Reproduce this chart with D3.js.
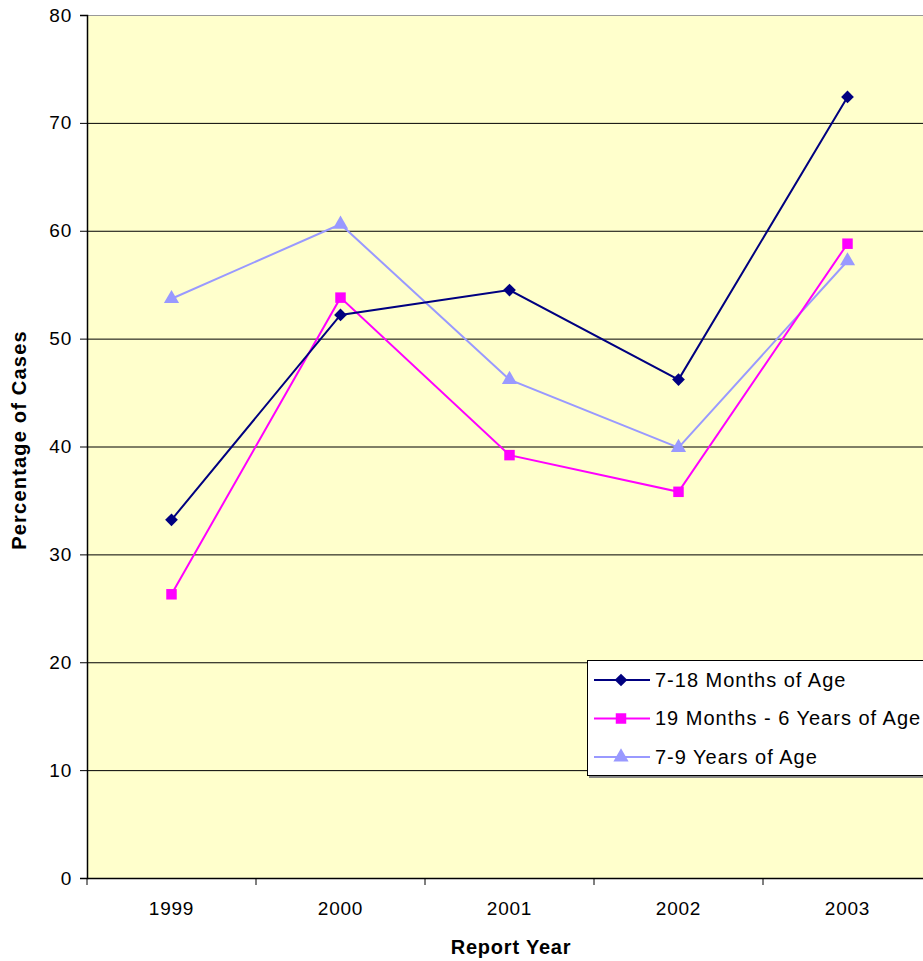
<!DOCTYPE html>
<html><head><meta charset="utf-8">
<script src="https://cdn.jsdelivr.net/npm/d3@7"></script>
<style>body{margin:0;background:#fff;}svg{display:block;font-family:"Liberation Sans",Arial,sans-serif;}</style>
</head><body>
<svg id="c" width="923" height="961"></svg>
<script>
const years = ["1999","2000","2001","2002","2003"];
const seriesNames = ["7-18 Months of Age","19 Months - 6 Years of Age","7-9 Years of Age"];
const months7to18 = [33.2, 52.2, 54.5, 46.2, 72.4];
const months19to6y = [26.3, 53.8, 39.2, 35.8, 58.8];
const years7to9 = [53.7, 60.6, 46.2, 39.9, 57.2];
const yTicks = [0,10,20,30,40,50,60,70,80];
const colors = ["#000080","#FF00FF","#9999FF"];
const markers = [d3.symbolSquare, d3.symbolSquare, d3.symbolTriangle];
const markerSizes = [81, 110, 100];
const markerRot = [45, 0, 0];

const svg = d3.select("#c");
const L=87, T=15, B=878, R=932;
const x = d3.scaleBand().domain(years).range([L,R]);
const y = d3.scaleLinear().domain([0,80]).range([B,T]);
const FF = "Liberation Sans, Arial, sans-serif";

svg.append("rect").attr("x",L).attr("y",T).attr("width",R-L).attr("height",B-T).attr("fill","#FFFFCC");
svg.append("g").selectAll("line").data(yTicks.filter(d=>d>0)).join("line")
  .attr("x1",L).attr("x2",R).attr("y1",d=>y(d)+0.5).attr("y2",d=>y(d)+0.5)
  .attr("stroke",d=>d===80?"#999":"#000").attr("stroke-width",1);

const ya = svg.append("g").attr("transform",`translate(${L},0)`)
  .call(d3.axisLeft(y).tickValues(yTicks).tickSize(7).tickPadding(8));
ya.select(".domain").attr("stroke","#000").attr("stroke-width",1.5);
ya.selectAll("text").attr("font-size",19).attr("letter-spacing",0.8).attr("fill","#000").attr("font-family",FF);
const xa = svg.append("g").attr("transform",`translate(0,${B})`)
  .call(d3.axisBottom(x).tickSize(0).tickPadding(24));
xa.select(".domain").attr("stroke","#000").attr("stroke-width",1.5);
xa.selectAll("text").attr("font-size",19).attr("letter-spacing",0.8).attr("fill","#000").attr("font-family",FF);
const xTickPos = d3.range(years.length+1).map(i=>L+i*x.bandwidth());
svg.append("g").selectAll("line").data(xTickPos).join("line")
  .attr("x1",d=>d).attr("x2",d=>d).attr("y1",B).attr("y2",B+7).attr("stroke","#000").attr("stroke-width",1);

svg.append("text").attr("x",511).attr("y",954).attr("text-anchor","middle")
  .attr("font-size",20).attr("letter-spacing",0.8).attr("font-weight","bold").text("Report Year");
svg.append("text").attr("transform","translate(26,440) rotate(-90)").attr("text-anchor","middle")
  .attr("font-size",20).attr("letter-spacing",1.2).attr("font-weight","bold").text("Percentage of Cases");

const data = [months7to18, months19to6y, years7to9];
const cx = d => x(d)+x.bandwidth()/2;
const line = d3.line().x((v,i)=>cx(years[i])).y(v=>y(v));
[2,1,0].forEach(s=>{
  svg.append("path").datum(data[s]).attr("d",line).attr("fill","none")
    .attr("stroke",colors[s]).attr("stroke-width",2);
  svg.append("g").selectAll("path").data(data[s]).join("path")
    .attr("transform",(v,i)=>`translate(${cx(years[i])},${y(v)}) rotate(${markerRot[s]})`)
    .attr("d",d3.symbol().type(markers[s]).size(markerSizes[s])).attr("fill",colors[s]);
});

const lg = svg.append("g");
lg.append("rect").attr("x",589).attr("y",662).attr("width",340).attr("height",116).attr("fill","#888");
lg.append("rect").attr("x",587.5).attr("y",660.5).attr("width",340).attr("height",115).attr("fill","#fff").attr("stroke","#000");
seriesNames.forEach((n,i)=>{
  const yy = 680+i*38.5;
  lg.append("line").attr("x1",594).attr("x2",650).attr("y1",yy).attr("y2",yy).attr("stroke",colors[i]).attr("stroke-width",2);
  lg.append("path").attr("transform",`translate(621,${yy}) rotate(${markerRot[i]})`).attr("d",d3.symbol().type(markers[i]).size(markerSizes[i])).attr("fill",colors[i]);
  lg.append("text").attr("x",655).attr("y",yy+6.5).attr("font-size",20).attr("letter-spacing",1).text(n);
});
</script>
</body></html>
